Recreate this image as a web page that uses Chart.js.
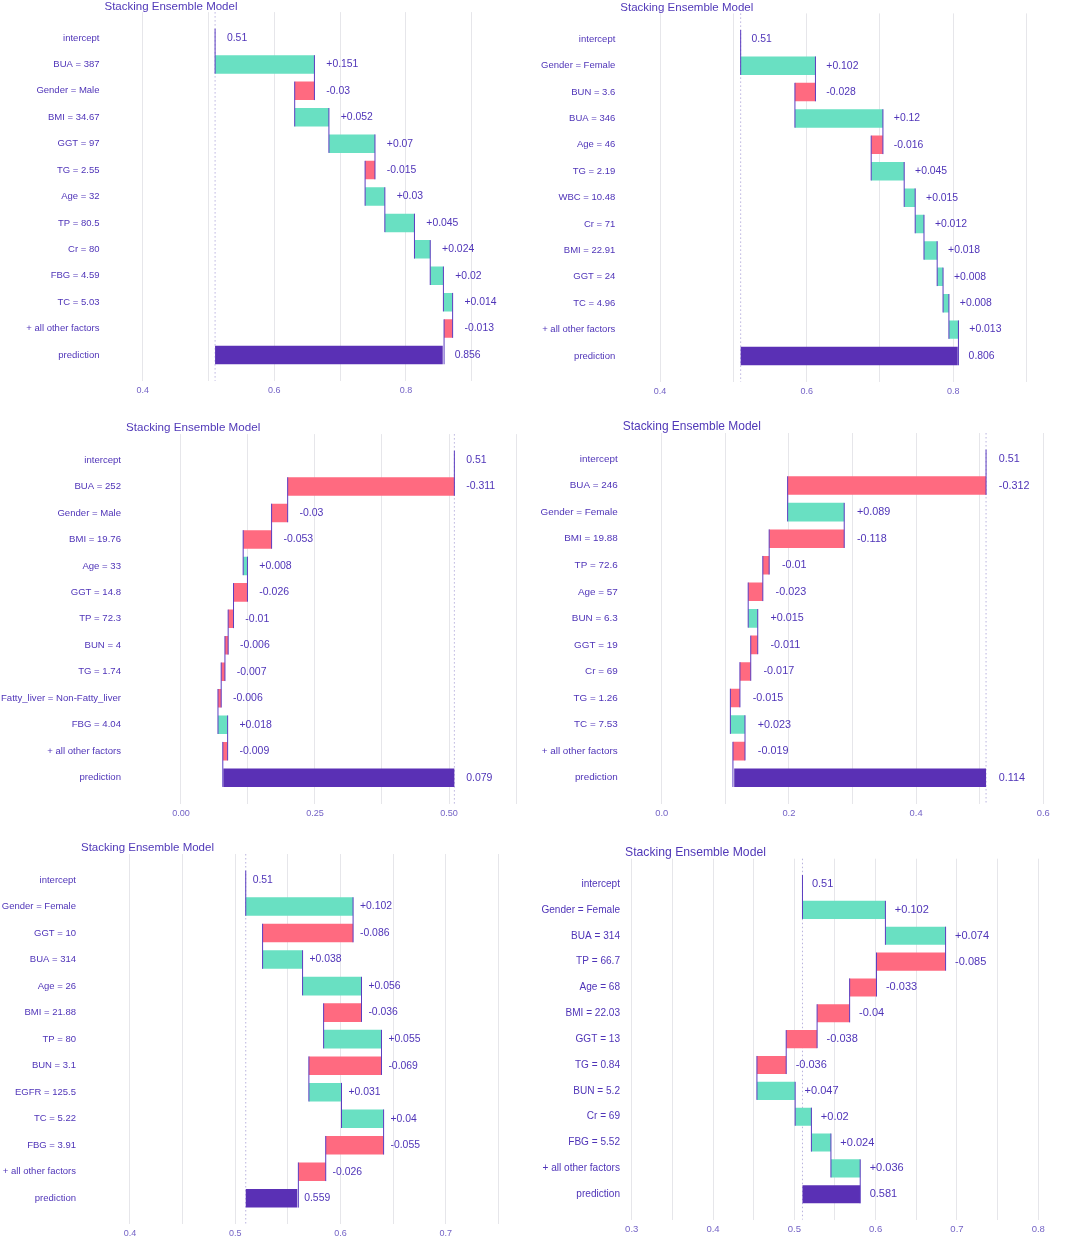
<!DOCTYPE html>
<html>
<head>
<meta charset="utf-8">
<title>Stacking Ensemble Model - break down</title>
<script src="https://cdn.jsdelivr.net/npm/chart.js@4.4.1/dist/chart.umd.min.js"></script>
<style>
  body { margin: 0; background: #fff; }
  #page { position: relative; width: 1065px; height: 1239px; overflow: hidden; }
  #page canvas { position: absolute; }
</style>
</head>
<body>
<div id="page"></div>
<script>
// ---- data ----
const chartTitle = 'Stacking Ensemble Model';

// panel 1 (top left)
const labels1 = ['intercept', 'BUA = 387', 'Gender = Male', 'BMI = 34.67', 'GGT = 97', 'TG = 2.55', 'Age = 32',
  'TP = 80.5', 'Cr = 80', 'FBG = 4.59', 'TC = 5.03', '+ all other factors', 'prediction'];
const contrib1 = [0.151, -0.03, 0.052, 0.07, -0.015, 0.03, 0.045, 0.024, 0.02, 0.014, -0.013];
const intercept1 = 0.51;
const pred1 = 0.856;
const ticks1 = [0.4, 0.5, 0.6, 0.7, 0.8, 0.9];
const tickText1 = ['0.4', '', '0.6', '', '0.8', ''];

// panel 2 (top right)
const labels2 = ['intercept', 'Gender = Female', 'BUN = 3.6', 'BUA = 346', 'Age = 46', 'TG = 2.19', 'WBC = 10.48',
  'Cr = 71', 'BMI = 22.91', 'GGT = 24', 'TC = 4.96', '+ all other factors', 'prediction'];
const contrib2 = [0.102, -0.028, 0.12, -0.016, 0.045, 0.015, 0.012, 0.018, 0.008, 0.008, 0.013];
const intercept2 = 0.51;
const pred2 = 0.806;
const ticks2 = [0.4, 0.5, 0.6, 0.7, 0.8, 0.9];
const tickText2 = ['0.4', '', '0.6', '', '0.8', ''];

// panel 3 (middle left)
const labels3 = ['intercept', 'BUA = 252', 'Gender = Male', 'BMI = 19.76', 'Age = 33', 'GGT = 14.8', 'TP = 72.3',
  'BUN = 4', 'TG = 1.74', 'Fatty_liver = Non-Fatty_liver', 'FBG = 4.04', '+ all other factors', 'prediction'];
const contrib3 = [-0.311, -0.03, -0.053, 0.008, -0.026, -0.01, -0.006, -0.007, -0.006, 0.018, -0.009];
const intercept3 = 0.51;
const pred3 = 0.079;
const ticks3 = [0, 0.125, 0.25, 0.375, 0.5, 0.625];
const tickText3 = ['0.00', '', '0.25', '', '0.50', ''];

// panel 4 (middle right)
const labels4 = ['intercept', 'BUA = 246', 'Gender = Female', 'BMI = 19.88', 'TP = 72.6', 'Age = 57', 'BUN = 6.3',
  'GGT = 19', 'Cr = 69', 'TG = 1.26', 'TC = 7.53', '+ all other factors', 'prediction'];
const contrib4 = [-0.312, 0.089, -0.118, -0.01, -0.023, 0.015, -0.011, -0.017, -0.015, 0.023, -0.019];
const intercept4 = 0.51;
const pred4 = 0.114;
const ticks4 = [0, 0.1, 0.2, 0.3, 0.4, 0.5, 0.6];
const tickText4 = ['0.0', '', '0.2', '', '0.4', '', '0.6'];

// panel 5 (bottom left)
const labels5 = ['intercept', 'Gender = Female', 'GGT = 10', 'BUA = 314', 'Age = 26', 'BMI = 21.88', 'TP = 80',
  'BUN = 3.1', 'EGFR = 125.5', 'TC = 5.22', 'FBG = 3.91', '+ all other factors', 'prediction'];
const contrib5 = [0.102, -0.086, 0.038, 0.056, -0.036, 0.055, -0.069, 0.031, 0.04, -0.055, -0.026];
const intercept5 = 0.51;
const pred5 = 0.559;
const ticks5 = [0.4, 0.45, 0.5, 0.55, 0.6, 0.65, 0.7, 0.75];
const tickText5 = ['0.4', '', '0.5', '', '0.6', '', '0.7', ''];

// panel 6 (bottom right)
const labels6 = ['intercept', 'Gender = Female', 'BUA = 314', 'TP = 66.7', 'Age = 68', 'BMI = 22.03', 'GGT = 13',
  'TG = 0.84', 'BUN = 5.2', 'Cr = 69', 'FBG = 5.52', '+ all other factors', 'prediction'];
const contrib6 = [0.102, 0.074, -0.085, -0.033, -0.04, -0.038, -0.036, 0.047, 0.02, 0.024, 0.036];
const intercept6 = 0.51;
const pred6 = 0.581;
const ticks6 = [0.3, 0.35, 0.4, 0.45, 0.5, 0.55, 0.6, 0.65, 0.7, 0.75, 0.8];
const tickText6 = ['0.3', '', '0.4', '', '0.5', '', '0.6', '', '0.7', '', '0.8'];

// ---- styling ----
const POS = '#69e0c2';
const NEG = '#ff6a80';
const PRED = '#5a30b5';
const TEXT = '#4f34b8';
const TICK = '#7463c6';
const LINK = '#5b3cc0';
const GRID = '#e6e6ea';
const TITLE_LH = 11.5;
const XAXIS_H = 22;

Chart.defaults.font.family = "'Liberation Sans', Arial, sans-serif";

// panel placement: plot area edges in page pixels, x limits, text scale
const panels = [
  { labels: labels1, contrib: contrib1, intercept: intercept1, pred: pred1, ticks: ticks1, tickText: tickText1,
    colX: 0, left: 104.5, right: 525, top: 12.1, bottom: 380.9, xMin: 0.34195, xMax: 0.981, k: 1.0 },
  { labels: labels2, contrib: contrib2, intercept: intercept2, pred: pred2, ticks: ticks2, tickText: tickText2,
    colX: 530, left: 620.3, right: 1060, top: 13.4, bottom: 381.9, xMin: 0.34586, xMax: 0.94548, k: 1.0 },
  { labels: labels3, contrib: contrib3, intercept: intercept3, pred: pred3, ticks: ticks3, tickText: tickText3,
    colX: 0, left: 126, right: 525, top: 434.1, bottom: 803.6, xMin: -0.10261, xMax: 0.64179, k: 1.01 },
  { labels: labels4, contrib: contrib4, intercept: intercept4, pred: pred4, ticks: ticks4, tickText: tickText4,
    colX: 530, left: 622.7, right: 1060, top: 433, bottom: 803.7, xMin: -0.06132, xMax: 0.62626, k: 1.04 },
  { labels: labels5, contrib: contrib5, intercept: intercept5, pred: pred5, ticks: ticks5, tickText: tickText5,
    colX: 0, left: 81, right: 525, top: 854, bottom: 1224.3, xMin: 0.35344, xMax: 0.77537, k: 1.0 },
  { labels: labels6, contrib: contrib6, intercept: intercept6, pred: pred6, ticks: ticks6, tickText: tickText6,
    colX: 530, left: 625, right: 1060, top: 858.7, bottom: 1219.6, xMin: 0.29176, xMax: 0.82669, k: 1.06 }
];

// running total after each row (row 0 = intercept)
function runningTotals(intercept, contrib) {
  const ends = [intercept];
  contrib.forEach(c => ends.push(ends[ends.length - 1] + c));
  return ends;
}

function buildPanel(p) {
  const n = p.labels.length;
  const ends = runningTotals(p.intercept, p.contrib);

  const bars = p.contrib.map((c, i) => ({ x: [ends[i], ends[i + 1]], y: i + 1 }));
  bars.push({ x: [p.intercept, p.pred], y: n - 1 });
  const colors = p.contrib.map(c => (c >= 0 ? POS : NEG)).concat(PRED);

  const valueText = [String(p.intercept)]
    .concat(p.contrib.map(c => (c > 0 ? '+' : '') + c), String(p.pred));
  const labelAt = [p.intercept]
    .concat(p.contrib.map((c, i) => Math.max(ends[i], ends[i + 1])), Math.max(p.intercept, p.pred));
  const all = ends.concat(p.pred);
  const nudge = (Math.max(...all) - Math.min(...all)) * 0.05;

  // canvas geometry
  const cTop = Math.floor(p.top - TITLE_LH * p.k);
  const cBottom = Math.ceil(p.bottom + XAXIS_H);
  const cWidth = Math.ceil(p.right - p.colX);
  const canvas = document.createElement('canvas');
  canvas.width = cWidth;
  canvas.height = cBottom - cTop;
  canvas.style.left = p.colX + 'px';
  canvas.style.top = cTop + 'px';
  document.getElementById('page').appendChild(canvas);

  const breakdown = {
    id: 'breakdown',
    beforeDatasetsDraw(chart) {
      const { ctx, chartArea, scales: { x } } = chart;
      const px = x.getPixelForValue(p.intercept);
      ctx.save();
      ctx.strokeStyle = '#b9b2de';
      ctx.lineWidth = 1;
      ctx.setLineDash([1.5, 2.5]);
      ctx.beginPath();
      ctx.moveTo(px, chartArea.top);
      ctx.lineTo(px, chartArea.bottom);
      ctx.stroke();
      ctx.restore();
    },
    afterDatasetsDraw(chart) {
      const { ctx, scales: { x, y } } = chart;
      const half = chart.getDatasetMeta(0).data[0].height / 2;
      ctx.save();
      // connectors between consecutive rows
      ctx.strokeStyle = LINK;
      ctx.lineWidth = 1;
      for (let i = 0; i < n - 1; i++) {
        const px = x.getPixelForValue(ends[i]);
        ctx.beginPath();
        ctx.moveTo(px, y.getPixelForValue(i) - half);
        ctx.lineTo(px, y.getPixelForValue(i + 1) + half);
        ctx.stroke();
      }
      // value labels
      ctx.fillStyle = TEXT;
      ctx.font = (10.4 * p.k) + "px 'Liberation Sans', Arial, sans-serif";
      ctx.textAlign = 'left';
      ctx.textBaseline = 'middle';
      for (let i = 0; i < n; i++) {
        ctx.fillText(valueText[i], x.getPixelForValue(labelAt[i] + nudge), y.getPixelForValue(i));
      }
      ctx.restore();
    }
  };

  return new Chart(canvas, {
    type: 'bar',
    data: {
      datasets: [{
        data: bars,
        backgroundColor: colors,
        borderWidth: 0,
        barPercentage: 0.7,
        categoryPercentage: 1
      }]
    },
    options: {
      indexAxis: 'y',
      responsive: false,
      animation: false,
      layout: {
        padding: {
          top: p.top - TITLE_LH * p.k - cTop,
          bottom: cBottom - (p.bottom + XAXIS_H),
          left: 0,
          right: cWidth - (p.right - p.colX)
        }
      },
      scales: {
        x: {
          type: 'linear',
          min: p.xMin,
          max: p.xMax,
          afterBuildTicks: axis => { axis.ticks = p.ticks.map(v => ({ value: v })); },
          afterFit: axis => { axis.height = XAXIS_H; },
          grid: { color: GRID, lineWidth: 1, drawTicks: false },
          border: { display: false },
          ticks: {
            autoSkip: false,
            maxRotation: 0,
            padding: 4,
            color: TICK,
            font: { size: 9 * p.k },
            callback: (v, i) => p.tickText[i]
          }
        },
        y: {
          type: 'linear',
          reverse: true,
          offset: false,
          min: -0.98,
          max: n - 1 + 0.98,
          afterBuildTicks: axis => { axis.ticks = p.labels.map((_, i) => ({ value: i })); },
          afterFit: axis => { axis.width = p.left - p.colX; },
          grid: { display: false, drawTicks: false, offset: false },
          border: { display: false },
          ticks: {
            autoSkip: false,
            padding: 5,
            color: TEXT,
            font: { size: 9.5 * p.k },
            callback: v => p.labels[v]
          }
        }
      },
      plugins: {
        legend: { display: false },
        tooltip: { enabled: false },
        title: {
          display: true,
          text: chartTitle,
          align: 'start',
          fullSize: false,
          padding: 0,
          color: '#5038b8',
          font: { size: 11.5 * p.k, weight: 'normal', lineHeight: 1 }
        }
      }
    },
    plugins: [breakdown]
  });
}

panels.forEach(buildPanel);
</script>
</body>
</html>
